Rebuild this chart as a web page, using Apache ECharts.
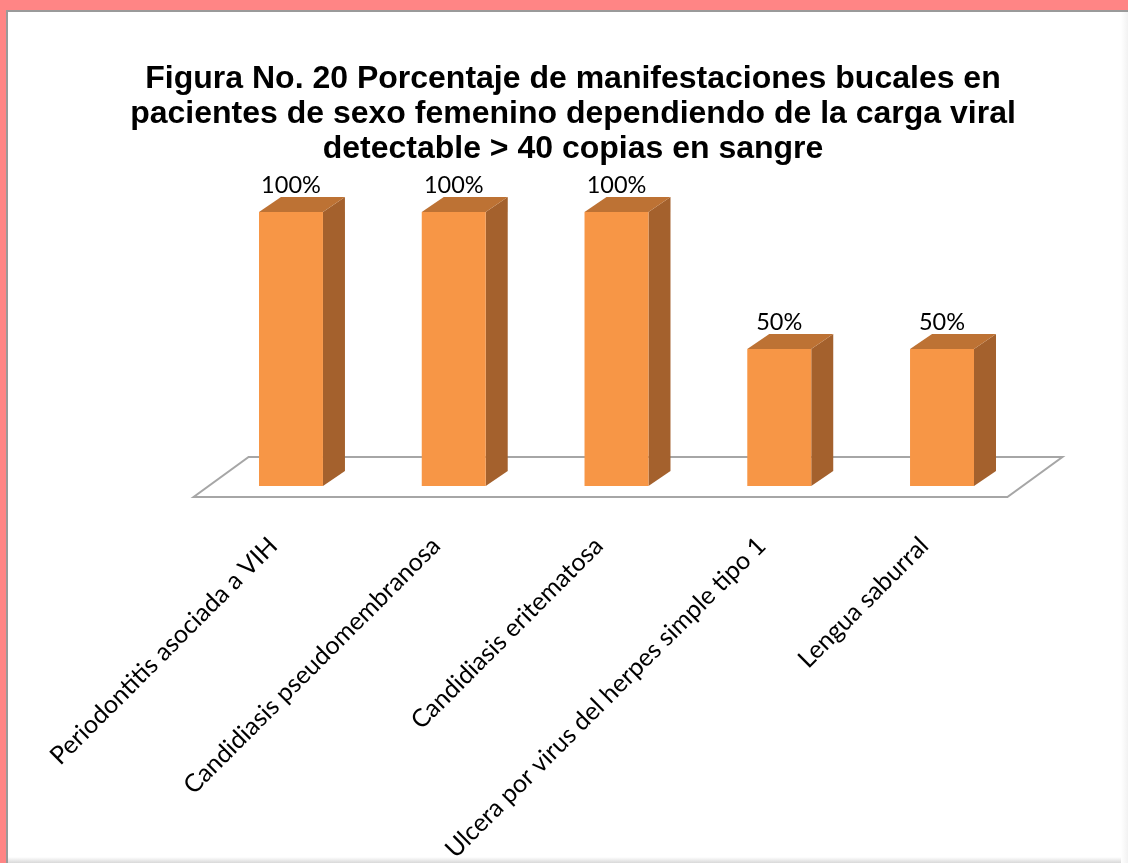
<!DOCTYPE html>
<html>
<head>
<meta charset="utf-8">
<style>
  html, body { margin: 0; padding: 0; background: #ffffff; }
  #chart { width: 1128px; height: 863px; }
</style>
<script src="https://cdn.jsdelivr.net/npm/echarts@6/dist/echarts.min.js"></script>
</head>
<body>
<div id="chart"></div>
<script>
// Manifestaciones bucales (pacientes femeninas, carga viral > 40 copias)
const categories = [
  'Periodontitis asociada a VIH',
  'Candidiasis pseudomembranosa',
  'Candidiasis eritematosa',
  'Ulcera por virus del herpes simple tipo 1',
  'Lengua saburral'
];
const percentages = [100, 100, 100, 50, 50];

const titleLines = [
  'Figura No. 20 Porcentaje de manifestaciones bucales en',
  'pacientes de sexo femenino dependiendo de la carga viral',
  'detectable > 40 copias en sangre'
];

// 3D look: depth offset of the bar prism and of the floor plate
const DEPTH = [22, -15];
const COLOR_FRONT = '#F79646';
const COLOR_SIDE = '#A4612D';
const COLOR_TOP = '#BD7234';

const chart = echarts.init(document.getElementById('chart'), null, { renderer: 'canvas' });

const option = {
  backgroundColor: '#FF8585',
  animation: false,
  graphic: [
    { type: 'rect', z: -10, shape: { x: 6, y: 10, width: 1122, height: 853 }, style: { fill: '#9a9a9a' } },
    { type: 'rect', z: -9, shape: { x: 8, y: 12, width: 1120, height: 851 }, style: { fill: '#ffffff' } },
    { type: 'rect', z: -8, shape: { x: 8, y: 857, width: 1120, height: 6 },
      style: { fill: new echarts.graphic.LinearGradient(0, 0, 0, 1, [
        { offset: 0, color: '#ffffff' }, { offset: 1, color: '#d8d8d8' }]) } },
    { type: 'rect', z: -8, shape: { x: 1121, y: 12, width: 7, height: 851 },
      style: { fill: new echarts.graphic.LinearGradient(0, 0, 1, 0, [
        { offset: 0, color: '#ffffff' }, { offset: 1, color: '#f2f2f2' }]) } },
    {
      type: 'text', x: 573, y: 62, z: 10,
      style: {
        text: titleLines.join('\n'),
        font: 'bold 32px "Liberation Sans", Arial, sans-serif',
        lineHeight: 35,
        fill: '#000000',
        textAlign: 'center',
        textVerticalAlign: 'top'
      }
    }
  ],
  grid: {
    left: 209.6, right: 104.6, top: 212, bottom: 377,
    containLabel: false,
    outerBoundsMode: 'none'
  },
  xAxis: {
    type: 'category',
    data: categories,
    axisLine: { show: false },
    axisTick: { show: false },
    axisLabel: {
      interval: 0,
      rotate: 45,
      margin: 38,
      padding: [0, 25, 0, 0],
      color: '#000000',
      fontFamily: 'Lato, "Open Sans", sans-serif',
      fontSize: 25
    }
  },
  yAxis: {
    type: 'value',
    min: 0,
    max: 100,
    show: false,
    splitLine: { show: false }
  },
  series: [
    {
      // floor plate under the bars
      type: 'custom',
      z: 1,
      data: [[0, 0]],
      silent: true,
      renderItem: function (params, api) {
        const cs = params.coordSys;
        const baseY = cs.y + cs.height;
        const fl = [cs.x - 16, baseY + 11];
        const fr = [cs.x + cs.width - 16, baseY + 11];
        const br = [fr[0] + 55, fr[1] - 40];
        const bl = [fl[0] + 55, fl[1] - 40];
        return {
          type: 'polygon',
          shape: { points: [fl, fr, br, bl] },
          style: { fill: '#ffffff', stroke: '#a6a6a6', lineWidth: 2 }
        };
      }
    },
    {
      type: 'custom',
      z: 5,
      data: percentages.map(function (v, i) { return [i, v]; }),
      renderItem: function (params, api) {
        const v = api.value(1);
        const base = api.coord([api.value(0), 0]);
        const top = api.coord([api.value(0), v]);
        const w = api.size([1, 0])[0] * 0.393;
        const x0 = base[0] - w / 2;
        const x1 = base[0] + w / 2;
        const dx = DEPTH[0], dy = DEPTH[1];
        return {
          type: 'group',
          children: [
            {
              type: 'polygon',
              shape: { points: [[x1, top[1]], [x1 + dx, top[1] + dy], [x1 + dx, base[1] + dy], [x1, base[1]]] },
              style: { fill: COLOR_SIDE }
            },
            {
              type: 'polygon',
              shape: { points: [[x0, top[1]], [x0 + dx, top[1] + dy], [x1 + dx, top[1] + dy], [x1, top[1]]] },
              style: { fill: COLOR_TOP }
            },
            {
              type: 'rect',
              shape: { x: x0, y: top[1], width: w, height: base[1] - top[1] },
              style: { fill: COLOR_FRONT }
            },
            {
              type: 'text',
              x: base[0],
              y: top[1] + dy,
              style: {
                text: v + '%',
                textAlign: 'center',
                textVerticalAlign: 'bottom',
                font: '23.5px Lato, "Open Sans", sans-serif',
                fill: '#000000'
              }
            }
          ]
        };
      }
    }
  ]
};

chart.setOption(option);
</script>
</body>
</html>
